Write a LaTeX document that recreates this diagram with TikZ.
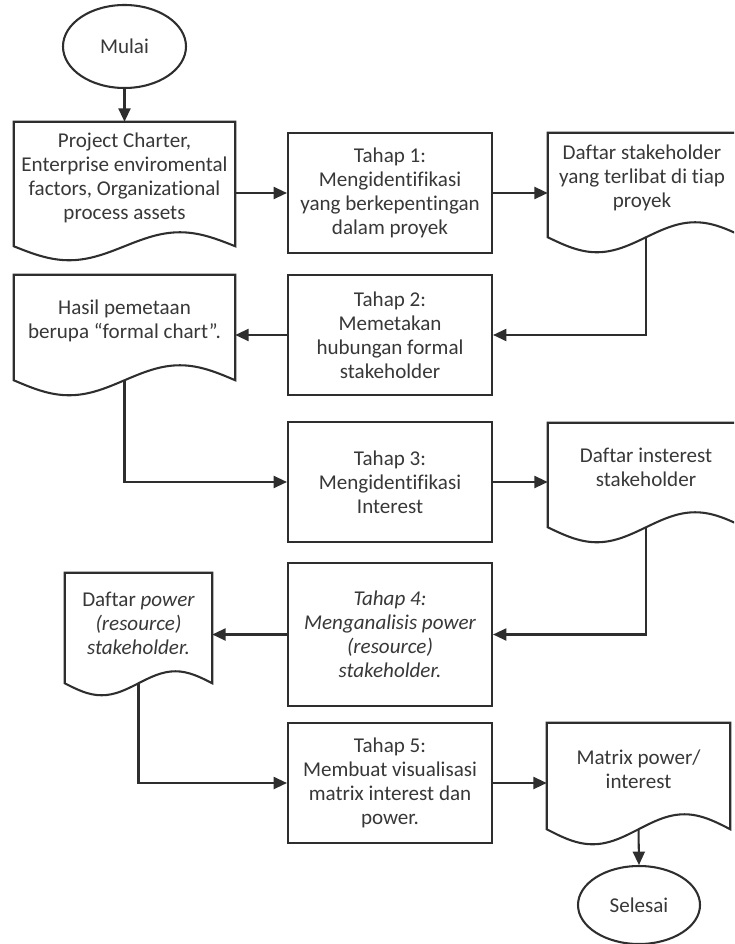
\documentclass[tikz,border=0pt]{standalone}
\usepackage{fontspec}
\setmainfont{Carlito}[Ligatures=NoCommon]
\usetikzlibrary{arrows.meta,shapes.geometric,calc}

\newcommand{\flowfont}{\fontsize{15.8}{18}\selectfont}

\tikzset{
  flowline/.style={draw=black!82, line width=1.55pt},
  every node/.style={font=\flowfont, text=black!78},
  stepbox/.style={flowline, rectangle, minimum width=153pt, inner sep=0pt, align=center},
  docarea/.style={rectangle, inner sep=0pt, draw=none},
  doctext/.style={align=center, inner sep=0pt},
  terminal/.style={flowline, ellipse, inner sep=0pt},
  arrow/.style={flowline, -{Triangle[length=10pt,width=9pt]}},
}

% document symbol: straight top and sides, wavy bottom edge
\newcommand{\docoutline}[2]{%
  \draw[flowline, line join=miter]
    (#1.south west) -- (#1.north west) -- (#1.north east) -- (#1.south east)
    sin ($(#1.south east)!0.25!(#1.south west)+(0pt,#2)$)
    cos (#1.south)
    sin ($(#1.south east)!0.75!(#1.south west)+(0pt,-#2)$)
    cos (#1.south west) -- cycle;}

\begin{document}
\begin{tikzpicture}[x=0.75pt,y=-0.75pt]
  \useasboundingbox (0,0) rectangle (734,944);
  \fill[white] (0,0) rectangle (734,944);
  \clip (0,0) rectangle (734,944);

  % terminals
  \node[terminal, minimum width=92.25pt, minimum height=62.25pt] (start) at (124.5,46.5) {Mulai};
  \node[terminal, minimum width=91.5pt, minimum height=58.5pt] (stop) at (639,905) {Selesai};

  % process steps
  \node[stepbox, minimum height=90pt] (s1) at (390,193)
    {Tahap 1:\\Mengidentifikasi\\yang berkepentingan\\dalam proyek};
  \node[stepbox, minimum height=90pt] (s2) at (390,335)
    {Tahap 2:\\Memetakan\\hubungan formal\\stakeholder};
  \node[stepbox, minimum height=90pt] (s3) at (390,482)
    {Tahap 3:\\Mengidentifikasi\\Interest};
  \node[stepbox, minimum height=107.25pt, font=\flowfont\itshape] (s4) at (390,634.5)
    {Tahap 4:\\Menganalisis power\\(resource)\\stakeholder.};
  \node[stepbox, minimum height=90pt] (s5) at (390,783)
    {Tahap 5:\\Membuat visualisasi\\matrix interest dan\\power.};

  % documents
  \node[docarea, minimum width=165.75pt, minimum height=93pt] (doc1) at (124.5,184) {};
  \docoutline{doc1}{10.5pt}
  \node[doctext] (doc1-text) at ([yshift=4.5pt]doc1.center)
    {Project Charter,\\Enterprise enviromental\\factors, Organizational\\process assets};

  \node[docarea, minimum width=147pt, minimum height=78pt] (doc2) at (646,185) {};
  \docoutline{doc2}{11.25pt}
  \node[doctext] (doc2-text) at ([yshift=5.25pt,xshift=-3pt]doc2.center)
    {Daftar stakeholder\\yang terlibat di tiap\\proyek};

  \node[docarea, minimum width=165.75pt, minimum height=78.75pt] (doc3) at (124.5,327.5) {};
  \docoutline{doc3}{11.25pt}
  \node[doctext] (doc3-text) at ([yshift=5.25pt]doc3.center)
    {Hasil pemetaan\\berupa “formal chart”.};

  \node[docarea, minimum width=147pt, minimum height=78pt] (doc4) at (646,475) {};
  \docoutline{doc4}{11.25pt}
  \node[doctext] (doc4-text) at ([yshift=5.6pt]doc4.center)
    {Daftar insterest\\stakeholder};

  \node[docarea, minimum width=110.25pt, minimum height=82.5pt] (doc5) at (138.5,628) {};
  \docoutline{doc5}{9pt}
  \node[doctext] (doc5-text) at ([yshift=3.4pt]doc5.center)
    {Daftar \textit{power}\\\textit{(resource)}\\\textit{stakeholder.}};

  \node[docarea, minimum width=137.25pt, minimum height=79.5pt] (doc6) at (638.5,776) {};
  \docoutline{doc6}{11.25pt}
  \node[doctext] (doc6-text) at ([yshift=4.9pt]doc6.center)
    {Matrix power/\\interest};

  % connectors
  \draw[arrow] (start.south) -- (doc1.north);
  \draw[arrow] (doc1.east |- s1.west) -- (s1.west);
  \draw[arrow] (s1.east) -- (s1.east -| doc2.west);
  \draw[arrow] (doc2.south) |- (s2.east);
  \draw[arrow] (s2.west) -- (s2.west -| doc3.east);
  \draw[arrow] (doc3.south) |- (s3.west);
  \draw[arrow] (s3.east) -- (s3.east -| doc4.west);
  \draw[arrow] (doc4.south) |- (s4.east);
  \draw[arrow] (s4.west) -- (s4.west -| doc5.east);
  \draw[arrow] (doc5.south) |- (s5.west);
  \draw[arrow] (s5.east) -- (s5.east -| doc6.west);
  \draw[arrow] (doc6.south) -- (stop.north);
\end{tikzpicture}
\end{document}
